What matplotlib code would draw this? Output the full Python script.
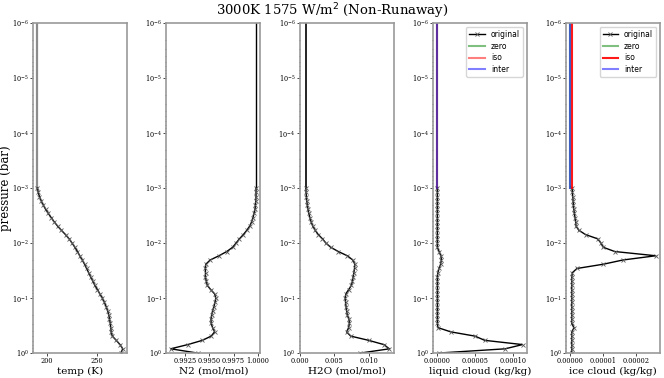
import numpy as np
import matplotlib.pyplot as plt
from matplotlib.ticker import FormatStrFormatter

# model levels (log10 of pressure in bar), top to bottom
log_p = [-3.000, -2.923, -2.846, -2.769, -2.692, -2.615, -2.538, -2.462, -2.385, -2.308,
         -2.231, -2.154, -2.077, -2.000, -1.923, -1.846, -1.769, -1.692, -1.615, -1.538,
         -1.462, -1.385, -1.308, -1.231, -1.154, -1.077, -1.000, -0.923, -0.846, -0.769,
         -0.692, -0.615, -0.538, -0.462, -0.385, -0.308, -0.231, -0.154, -0.077, 0.000]
pressure = 10 ** np.array(log_p)
top_pressure = [1e-6, 1e-3]

temp = [190.5, 191.2, 192.5, 194.2, 196.3, 198.6, 201.4, 204.3, 207.3, 210.7,
        214.5, 218.6, 222.2, 225.2, 228.0, 230.6, 232.9, 235.4, 237.7, 239.7,
        241.8, 243.8, 246.0, 248.0, 250.6, 253.0, 255.5, 257.5, 259.3, 260.8,
        262.0, 262.7, 263.5, 264.0, 264.3, 265.5, 269.5, 273.2, 276.0, 274.0]
n2 = [0.99980, 0.99980, 0.99980, 0.99978, 0.99974, 0.99970, 0.99960, 0.99948, 0.99935, 0.99915,
      0.99885, 0.99850, 0.99810, 0.99775, 0.99740, 0.99680, 0.99600, 0.99510, 0.99465, 0.99460,
      0.99462, 0.99460, 0.99470, 0.99480, 0.99515, 0.99555, 0.99568, 0.99560, 0.99548, 0.99535,
      0.99525, 0.99518, 0.99520, 0.99535, 0.99555, 0.99520, 0.99430, 0.99280, 0.99105, 0.99380]
h2o = [0.00090, 0.00092, 0.00097, 0.00102, 0.00110, 0.00120, 0.00132, 0.00148, 0.00165, 0.00190,
       0.00225, 0.00270, 0.00330, 0.00380, 0.00450, 0.00560, 0.00690, 0.00770, 0.00800, 0.00795,
       0.00785, 0.00775, 0.00765, 0.00750, 0.00710, 0.00670, 0.00660, 0.00665, 0.00672, 0.00680,
       0.00690, 0.00715, 0.00720, 0.00710, 0.00680, 0.00740, 0.01000, 0.01220, 0.01300, 0.00880]
liquid = [2e-7] * 15 + [2.5e-6, 5.0e-6, 5.5e-6, 4.5e-6, 2.5e-6, 8e-7] + [3e-7] * 12 + \
         [1.0e-6, 1.8e-5, 5.0e-5, 6.3e-5, 1.13e-4, 9.0e-5, 2.0e-6]
ice = [5e-7, 6e-7, 7e-7, 8e-7, 9e-7, 1.0e-6, 1.2e-6, 1.4e-6, 1.6e-6, 1.7e-6,
       2.6e-6, 4.6e-6, 8.3e-6, 9.3e-6, 1.0e-5, 1.35e-5, 2.6e-5, 1.6e-5, 1.0e-5, 2.0e-6,
       6e-7] + [4e-7] * 12 + [1.1e-6] + [4e-7] * 6

# values used above the top model level
temp_top = 190.5
n2_top = 0.9998
h2o_top = 0.0009
liquid_ext = {'zero': 0.0, 'iso': 2e-7, 'inter': 0.0}
ice_ext = {'zero': 0.0, 'iso': 5e-7, 'inter': 0.0}

xlabels = ['temp (K)', 'N2 (mol/mol)', 'H2O (mol/mol)', 'liquid cloud (kg/kg)', 'ice cloud (kg/kg)']
xticks = [[200, 250], [0.9925, 0.995, 0.9975, 1.0], [0.0, 0.005, 0.010],
          [0.0, 5e-5, 1e-4], [0.0, 1e-5, 2e-5]]
xfmts = ['%d', '%.4f', '%.3f', '%.5f', '%.5f']

plt.rcParams['font.family'] = 'DejaVu Serif'

fig, axes = plt.subplots(1, 5, figsize=(6.64, 3.78), dpi=100)
fig.subplots_adjust(left=0.05, right=0.994, top=0.939, bottom=0.066, wspace=0.42)

profiles = [temp, n2, h2o, liquid, ice]
mk = dict(marker='x', ms=2.5, mew=0.6, mec='0.35', lw=1.0, color='black')

for i, ax in enumerate(axes):
    if i == 0:
        ax.plot([temp_top, temp_top], top_pressure, color='0.55', lw=1.6)
    elif i == 1:
        ax.plot([n2_top, n2_top], top_pressure, color='black', lw=1.0)
    elif i == 2:
        ax.plot([h2o_top, h2o_top], top_pressure, color='black', lw=1.2)

    ax.plot(profiles[i], pressure, label='original', **mk)

    if i >= 3:
        ext = liquid_ext if i == 3 else ice_ext
        ax.plot([ext['zero']] * 2, top_pressure, color='green', alpha=0.5, lw=1.5, label='zero')
        ax.plot([ext['iso']] * 2, top_pressure, color='red', alpha=0.9 if i == 4 else 0.5,
                lw=1.5, label='iso')
        ax.plot([ext['inter']] * 2, top_pressure, color='blue', alpha=0.5, lw=1.5, label='inter')
        ax.legend(loc='upper right', prop={'family': 'DejaVu Sans', 'size': 5.5},
                  handlelength=2.0, borderpad=0.4, labelspacing=0.35)

    ax.set_yscale('log')
    ax.set_ylim(1, 1e-6)
    ax.set_xticks(xticks[i])
    ax.xaxis.set_major_formatter(FormatStrFormatter(xfmts[i]))
    ax.set_xlabel(xlabels[i], fontsize=7.5, labelpad=1)
    ax.tick_params(axis='both', which='major', labelsize=4.8, length=2, width=0.5, pad=1)
    ax.tick_params(axis='y', which='minor', length=1, width=0.4)
    for s in ax.spines.values():
        s.set_color('0.6')
        s.set_linewidth(1.2)

axes[0].set_ylabel('pressure (bar)', fontsize=8.5)
axes[0].yaxis.set_label_coords(-0.225, 0.5)
fig.suptitle('3000K 1575 W/m$^2$ (Non-Runaway)', fontsize=9.5, y=0.997)

plt.savefig('out.png')
